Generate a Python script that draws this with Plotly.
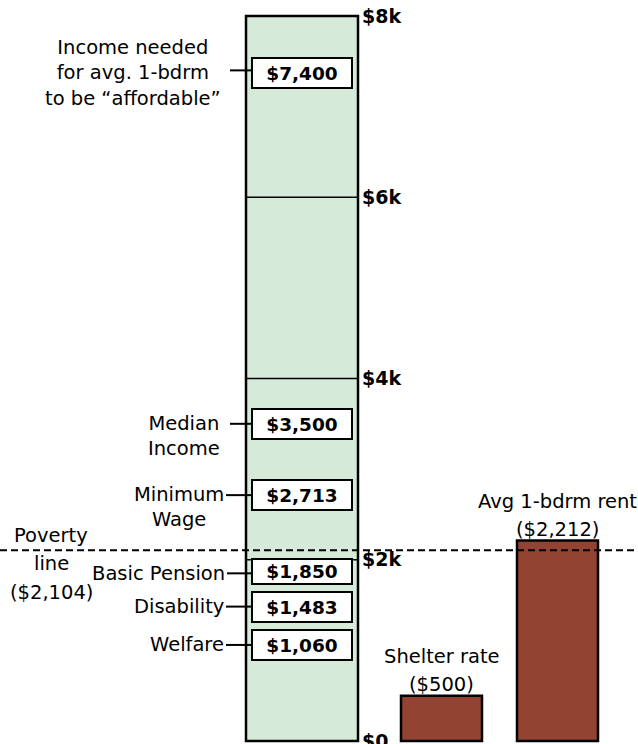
import plotly.graph_objects as go

# ---------------- data ----------------
income_labels = [
    "Income needed<br>for avg. 1-bdrm<br>to be “affordable”",
    "Median<br>Income",
    "Minimum<br>Wage",
    "Basic Pension",
    "Disability",
    "Welfare",
]
income_values = [7400, 3500, 2713, 1850, 1483, 1060]

cost_labels = [["Shelter rate", "($500)"], ["Avg 1-bdrm rent", "($2,212)"]]
cost_values = [500, 2212]

poverty_value = 2104
poverty_label = ["Poverty", "line", "($2,104)"]

scale_max = 8000
tick_values = [0, 2000, 4000, 6000, 8000]
tick_labels = ["$0", "$2k", "$4k", "$6k", "$8k"]

# ---------------- layout / style ----------------
W, H = 638, 744
FONT = "DejaVu Sans"
GREEN = "#D6EADA"
BROWN = "#934332"
LABEL_SIZE = 19.5

col_center, col_width = 302, 112
cost_centers = [441.5, 557.5]
cost_width = 81

label_right = [223, 222, 226, 227, 226, 226]
conn_start = [230, 230, 226, 227, 226, 226]
box_heights = [28, 28, 28, 23, 28, 28]
box_yshift = [-3, 0, 0, 2, 0, 0]
label_yshift = [-3, -12, -12, 0, 0, 0]

fig = go.Figure()

# green scale column
fig.add_trace(go.Bar(
    x=[col_center], y=[scale_max], width=[col_width],
    marker=dict(color=GREEN, line=dict(color="black", width=2.5)),
    hoverinfo="skip", showlegend=False,
))

# cost bars
fig.add_trace(go.Bar(
    x=cost_centers, y=cost_values, width=[cost_width] * len(cost_values),
    marker=dict(color=BROWN, line=dict(color="black", width=2.5)),
    hoverinfo="skip", showlegend=False,
))

shapes = []
# grid lines inside the column
for tv in tick_values[1:-1]:
    shapes.append(dict(type="line", xref="x", yref="y",
                       x0=col_center - col_width / 2, x1=col_center + col_width / 2,
                       y0=tv, y1=tv, line=dict(color="black", width=1.5), layer="above"))

# poverty dashed line
shapes.append(dict(type="line", xref="paper", yref="y", x0=0, x1=1,
                   y0=poverty_value, y1=poverty_value,
                   line=dict(color="black", width=2, dash="7px,4px"), layer="above"))

annotations = []
box_left = col_center - 50
for i, (lab, v) in enumerate(zip(income_labels, income_values)):
    # connector
    shapes.append(dict(type="line", xref="x", yref="y",
                       x0=conn_start[i], x1=box_left, y0=v, y1=v,
                       line=dict(color="black", width=2), layer="above"))
    # value box
    annotations.append(dict(
        x=col_center, y=v, xref="x", yref="y", text="<b>$%s</b>" % format(v, ","),
        showarrow=False, width=98, height=box_heights[i], yshift=box_yshift[i],
        bgcolor="white", bordercolor="black", borderwidth=2, borderpad=0,
        font=dict(family=FONT, size=18.5, color="black"),
    ))
    # label
    annotations.append(dict(
        x=label_right[i], y=v, xref="x", yref="y", text=lab, showarrow=False,
        xanchor="right", yanchor="middle", align="center", yshift=label_yshift[i],
        font=dict(family=FONT, size=LABEL_SIZE, color="black"),
    ))

# cost labels
for c, v, lines in zip(cost_centers, cost_values, cost_labels):
    n = len(lines)
    for j, t in enumerate(lines):
        annotations.append(dict(
            x=c, y=v, xref="x", yref="y", text=t, showarrow=False,
            xanchor="center", yanchor="middle", yshift=11 + (n - 1 - j) * 28,
            font=dict(family=FONT, size=LABEL_SIZE, color="black"),
        ))

# poverty label
pov_shifts = [15, -13, -42]
for t, s in zip(poverty_label, pov_shifts):
    annotations.append(dict(
        x=51, y=poverty_value, xref="x", yref="y", text=t, showarrow=False,
        xanchor="center", yanchor="middle", yshift=s,
        font=dict(family=FONT, size=LABEL_SIZE, color="black"),
    ))

px_per_unit = (741 - 16) / scale_max
y_lo = -(H - 741) / px_per_unit
y_hi = scale_max + 16 / px_per_unit

fig.update_layout(
    width=W, height=H, autosize=False,
    margin=dict(l=0, r=0, t=0, b=0, autoexpand=False),
    paper_bgcolor="white", plot_bgcolor="white",
    showlegend=False, barmode="overlay",
    xaxis=dict(range=[0, W], visible=False, fixedrange=True, automargin=False),
    yaxis=dict(range=[y_lo, y_hi], anchor="free", position=(col_center + col_width / 2) / W,
               side="right", tickvals=tick_values, ticktext=tick_labels,
               showgrid=False, zeroline=False, showline=False, ticks="",
               ticklabelstandoff=3, ticklabeloverflow="allow", automargin=False,
               tickfont=dict(family=FONT, size=19, color="black", weight="bold"),
               fixedrange=True),
    shapes=shapes, annotations=annotations,
)

fig.write_html("out.html", config={"displayModeBar": False},
               post_script="document.body.style.margin='0px';")
